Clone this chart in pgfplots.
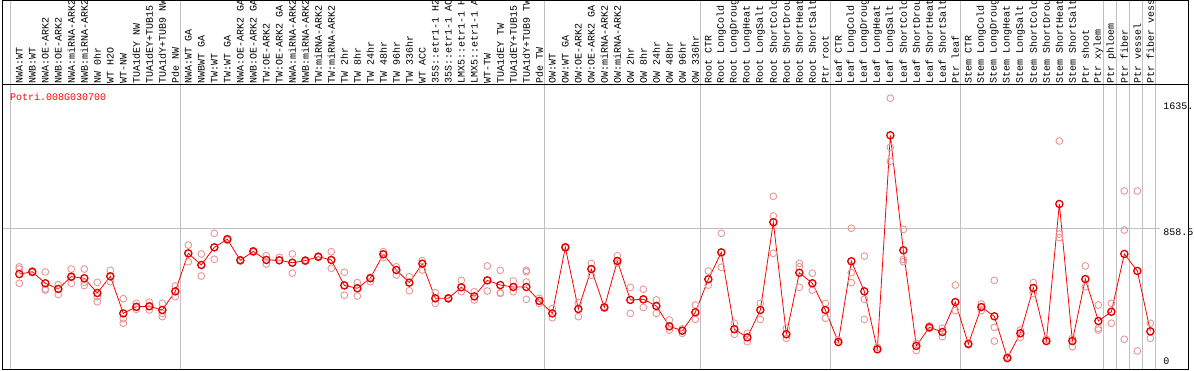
\documentclass[border=0pt]{standalone}
\usepackage{pgfplots}
\pgfplotsset{compat=1.18}
\usepackage{fontspec}
\newfontfamily\monofont{Liberation Mono}
\definecolor{sepcol}{RGB}{192,192,192}
\definecolor{repcol}{RGB}{232,150,150}
\begin{document}
\begin{tikzpicture}
\useasboundingbox (-2pt,-1pt) rectangle (1192pt,369pt);
\clip (-2pt,-1pt) rectangle (1192pt,369pt);
\begin{axis}[
  scale only axis, width=1186pt, height=284pt,
  at={(0pt,0pt)}, anchor=south west,
  xmin=-1.3308, xmax=89.9, ymin=-10.5, ymax=1743.7,
  axis line style={black, line width=1pt},
  xtick={0,...,87},
  xticklabels={NWA:WT, NWB:WT, NWA:OE-ARK2, NWB:OE-ARK2, NWA:miRNA-ARK2, NWB:miRNA-ARK2, NW 0hr, WT H2O, WT-NW, TUA1dEY NW, TUA1dEY+TUB15, TUA1dY+TUB9 NW, Pde NW,
    NWA:WT GA, NWBWT GA, TW:WT, TW:WT GA, NWA:OE-ARK2 GA, NWB:OE-ARK2 GA, TW:OE-ARK2, TW:OE-ARK2 GA, NWA:miRNA-ARK2, NWB:miRNA-ARK2, TW:miRNA-ARK2, TW:miRNA-ARK2, TW 2hr, TW 8hr, TW 24hr, TW 48hr, TW 96hr, TW 336hr, WT ACC, 35S::etr1-1 H2, 35S::etr1-1 AC, LMX5::etr1-1 H, LMX5::etr1-1 A, WT-TW, TUA1dEY TW, TUA1dEY+TUB15, TUA1dY+TUB9 TW, Pde TW,
    OW:WT, OW:WT GA, OW:OE-ARK2, OW:OE-ARK2 GA, OW:miRNA-ARK2, OW:miRNA-ARK2, OW 2hr, OW 8hr, OW 24hr, OW 48hr, OW 96hr, OW 336hr,
    Root CTR, Root LongCold, Root LongDroug, Root LongHeat, Root LongSalt, Root ShortCold, Root ShortDrou, Root ShortHeat, Root ShortSalt, Ptr root,
    Leaf CTR, Leaf LongCold, Leaf LongDroug, Leaf LongHeat, Leaf LongSalt, Leaf ShortCold, Leaf ShortDrou, Leaf ShortHeat, Leaf ShortSalt, Ptr leaf,
    Stem CTR, Stem LongCold, Stem LongDroug, Stem LongHeat, Stem LongSalt, Stem ShortCold, Stem ShortDrou, Stem ShortHeat, Stem ShortSalt, Ptr shoot, Ptr xylem, Ptr phloem, Ptr fiber, Ptr vessel, Ptr fiber vess},
  xticklabel pos=upper,
  xticklabel style={rotate=90, anchor=west, inner sep=0pt, font=\monofont\fontsize{10}{12}\selectfont, text=black},
  xticklabel shift=1pt,
  major tick length=0pt,
  ytick=\empty,
  clip=false,
]
% separators and grid
\draw[sepcol, line width=1pt] (axis cs:-0.64,-10.5) -- (axis cs:-0.64,2265);
\draw[sepcol, line width=1pt] (axis cs:12.38,-10.5) -- (axis cs:12.38,2265);
\draw[sepcol, line width=1pt] (axis cs:40.38,-10.5) -- (axis cs:40.38,2265);
\draw[sepcol, line width=1pt] (axis cs:52.38,-10.5) -- (axis cs:52.38,2265);
\draw[sepcol, line width=1pt] (axis cs:62.38,-10.5) -- (axis cs:62.38,2265);
\draw[sepcol, line width=1pt] (axis cs:72.42,-10.5) -- (axis cs:72.42,2265);
\draw[sepcol, line width=1pt] (axis cs:83.38,-10.5) -- (axis cs:83.38,2265);
\draw[sepcol, line width=1pt] (axis cs:84.37,-10.5) -- (axis cs:84.37,2265);
\draw[sepcol, line width=1pt] (axis cs:85.38,-10.5) -- (axis cs:85.38,2265);
\draw[sepcol, line width=1pt] (axis cs:86.37,-10.5) -- (axis cs:86.37,2265);
\draw[sepcol, line width=1pt] (axis cs:87.37,-10.5) -- (axis cs:87.37,2265);
\draw[sepcol, line width=1pt] (axis cs:-1.33,858.5) -- (axis cs:87.75,858.5);
% outer frame
\draw[black, line width=1pt] (axis cs:-1.3308,-10.5) -- (axis cs:-1.3308,2265.5) -- (axis cs:89.9,2265.5) -- (axis cs:89.9,-10.5);
\draw[black, line width=1pt] (axis cs:-1.3308,1743.7) -- (axis cs:89.9,1743.7);
% replicates
\addplot[only marks, mark=o, mark size=3.4pt, mark options={draw=repcol, line width=0.9pt}] table {
x y
0 620
0 607
0 519
1 585
1 595
2 589
2 484
2 477
3 510
3 484
3 449
4 607
4 519
4 555
5 607
5 525
5 505
6 525
6 436
6 405
7 599
7 529
7 560
8 424
8 300
8 272
9 395
9 370
9 358
10 403
10 377
10 354
11 395
11 333
11 313
12 502
12 469
12 436
13 755
13 704
13 652
14 700
14 632
14 564
15 828
15 741
15 667
16 795
16 785
17 665
17 657
18 720
18 712
19 689
19 638
19 663
20 679
20 661
21 700
21 646
21 582
22 655
22 663
23 687
23 679
24 714
24 663
24 611
25 587
25 506
25 445
26 523
26 488
26 440
27 529
27 550
27 556
28 714
28 698
28 677
29 621
29 601
29 570
30 560
30 523
30 473
31 659
31 640
31 601
32 461
32 426
32 395
33 430
33 422
34 537
34 494
34 467
35 467
35 438
35 416
36 626
36 537
36 471
37 599
37 461
37 457
38 533
38 496
38 467
39 599
39 590
39 527
39 420
40 426
40 410
40 395
41 364
41 333
41 306
42 745
42 737
43 399
43 360
43 313
44 642
44 607
44 568
45 374
45 366
46 689
46 657
46 642
47 494
47 416
47 333
48 482
48 420
48 370
49 416
49 379
49 333
50 292
50 253
50 230
51 237
51 226
51 210
52 385
52 340
52 296
53 595
53 544
53 508
54 828
54 710
54 618
55 272
55 235
55 204
56 210
56 185
56 158
57 395
57 354
57 296
58 1056
58 935
58 704
59 241
59 204
59 179
60 642
60 621
60 494
61 581
61 519
61 477
62 395
62 354
62 303
63 169
63 156
64 859
64 584
64 523
65 687
65 420
65 296
66 124
66 111
67 1662
67 1359
67 1272
68 852
68 667
68 652
69 148
69 132
69 103
70 255
70 240
71 241
71 218
71 189
72 508
72 403
72 350
73 148
73 140
74 391
74 372
74 350
75 537
75 247
75 162
76 65
76 57
77 230
77 210
77 185
78 523
78 490
78 457
79 173
79 162
80 1398
80 823
80 801
81 179
81 162
81 127
82 626
82 545
82 498
83 385
83 241
83 230
84 395
84 343
84 272
85 1089
85 848
85 173
86 1089
86 101
87 272
87 222
87 179
};
% means
\addplot[red, line width=0.8pt, mark=o, mark size=3.6pt, mark options={draw=red!90!black, line width=1.3pt}] table {
x y
0 576
1 590
2 519
3 484
4 560
5 550
6 459
7 562
8 333
9 374
10 377
11 354
12 469
13 704
14 632
15 741
16 791
17 661
18 716
19 663
20 661
21 646
22 659
23 683
24 663
25 506
26 488
27 550
28 698
29 601
30 523
31 640
32 426
33 426
34 494
35 438
36 537
37 508
38 496
39 496
40 410
41 333
42 741
43 360
44 607
45 370
46 657
47 416
48 420
49 379
50 253
51 226
52 340
53 544
54 710
55 235
56 185
57 354
58 896
59 204
60 584
61 519
62 354
63 156
64 655
65 469
66 111
67 1433
68 723
69 132
70 247
71 218
72 403
73 144
74 372
75 315
76 57
77 210
78 490
79 162
80 1009
81 162
82 545
83 286
84 343
85 700
86 595
87 222
};
\node[anchor=base west, inner sep=0pt, text=red, font=\monofont\fontsize{10}{12}\selectfont] at (axis cs:-0.715,1645) {Potri.008G030700};
\node[anchor=north west, inner sep=0pt, text=black, font=\monofont\fontsize{10}{12}\selectfont] at (axis cs:87.98,1635) {1635.};
\node[anchor=north west, inner sep=0pt, text=black, font=\monofont\fontsize{10}{12}\selectfont] at (axis cs:87.98,858.5) {858.5};
\node[anchor=south west, inner sep=0pt, text=black, font=\monofont\fontsize{10}{12}\selectfont] at (axis cs:87.98,13) {0};
\end{axis}
\end{tikzpicture}
\end{document}
